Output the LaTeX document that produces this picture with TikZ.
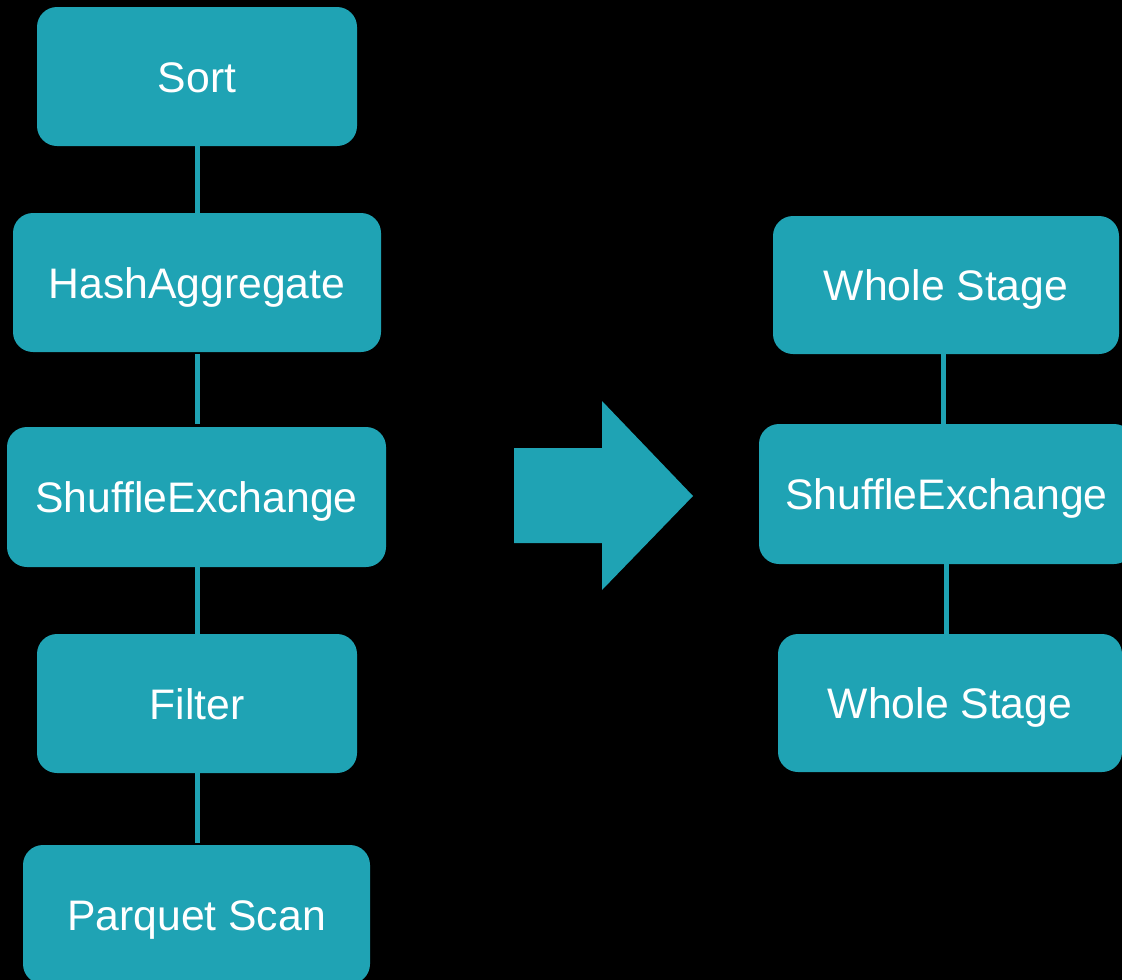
\documentclass[tikz,border=0pt]{standalone}
\usepackage{fontspec}
\setmainfont{Liberation Sans}
\definecolor{teal}{HTML}{1FA3B4}
\begin{document}
\begin{tikzpicture}[x=1pt,y=-1pt,
  stage/.style={draw=none,fill=teal,rounded corners=20pt,inner sep=0pt,
    text=white,font=\fontsize{42.7}{50}\selectfont,
    text height=31pt,text depth=0pt},
  link/.style={draw=teal,line width=5pt}]
\useasboundingbox (0,0) rectangle (1122,980);
\fill[black] (0,0) rectangle (1122,980);
\clip (0,0) rectangle (1122,980);

% physical plan before fusion
\node[stage,minimum width=320pt,minimum height=139pt] (sort) at (197,76.5) {Sort};
\node[stage,minimum width=368pt,minimum height=139pt] (hash) at (197,282.5) {HashAggregate};
\node[stage,minimum width=379pt,minimum height=140pt] (shuf) at (196.5,497) {ShuffleExchange};
\node[stage,minimum width=320pt,minimum height=139pt] (filt) at (197,703.5) {Filter};
\node[stage,minimum width=347pt,minimum height=139pt] (scan) at (196.5,914.5) {Parquet Scan};

\draw[link] (197,0 |- sort.south) -- (197,0 |- hash.north);
\draw[link,shorten <=2pt,shorten >=3pt] (197,0 |- hash.south) -- (197,0 |- shuf.north);
\draw[link] (197,0 |- shuf.south) -- (197,0 |- filt.north);
\draw[link,shorten >=2pt] (197,0 |- filt.south) -- (197,0 |- scan.north);

% transformation arrow
\fill[teal] (514,448) -- (602,448) -- (602,401) -- (693,496) -- (602,590)
  -- (602,543) -- (514,543) -- cycle;

% plan after whole-stage code generation
\node[stage,minimum width=346pt,minimum height=138pt] (ws1) at (946,285) {Whole Stage};
\node[stage,minimum width=375pt,minimum height=140pt] (shuf2) at (946.5,494) {ShuffleExchange};
\node[stage,minimum width=344pt,minimum height=138pt] (ws2) at (950,703) {Whole Stage};

\draw[link] (943.5,0 |- ws1.south) -- (943.5,0 |- shuf2.north);
\draw[link] (946,0 |- shuf2.south) -- (946,0 |- ws2.north);
\end{tikzpicture}
\end{document}
